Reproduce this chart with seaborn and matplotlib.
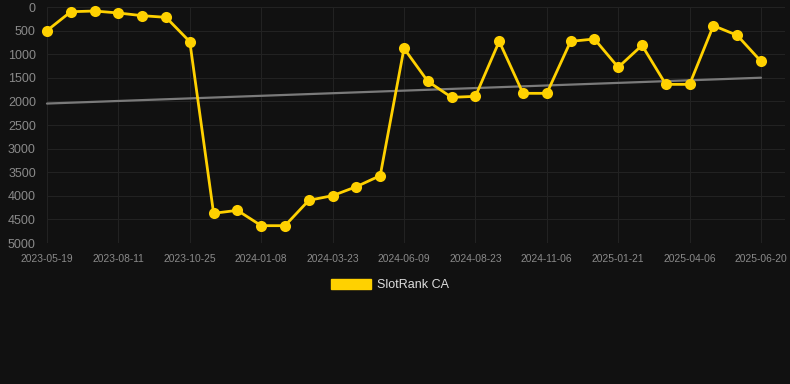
import numpy as np
import pandas as pd
import matplotlib
matplotlib.use("Agg")
import matplotlib.pyplot as plt
import matplotlib.patches as mpatches
import seaborn as sns

# rank values (lower = better, axis inverted)
rank = [500, 100, 85, 127, 184, 219, 735, 4371, 4308, 4633, 4633,
        4096, 3997, 3806, 3573, 876, 1575, 1914, 1893, 728, 1829,
        1829, 728, 678, 1278, 812, 1639, 1639, 395, 600, 1151]
tick_dates = ["2023-05-19", "2023-08-11", "2023-10-25", "2024-01-08",
              "2024-03-23", "2024-06-09", "2024-08-23", "2024-11-06",
              "2025-01-21", "2025-04-06", "2025-06-20"]
yticks = [0, 500, 1000, 1500, 2000, 2500, 3000, 3500, 4000, 4500, 5000]

bg = "#111111"
gold = "#ffd100"
gridc = "#222222"
txtc = "#8a8a8a"

df = pd.DataFrame({"idx": np.arange(len(rank)), "rank": rank})

sns.set_style("dark")
plt.rcParams["font.family"] = ["Liberation Sans", "DejaVu Sans"]

fig = plt.figure(figsize=(7.9, 3.84), dpi=100, facecolor=bg)
ax = fig.add_axes([47 / 790, 1 - 243 / 384, (785 - 47) / 790, (243 - 7) / 384])
ax.set_facecolor(bg)

# trend line
sns.regplot(data=df, x="idx", y="rank", scatter=False, ci=None, ax=ax,
            line_kws={"color": "#7a7a7a", "linewidth": 1.6, "zorder": 2})

sns.lineplot(data=df, x="idx", y="rank", ax=ax, color=gold, linewidth=2.0,
             marker="o", markersize=8, markeredgewidth=0, zorder=3)
for ln in ax.get_lines():
    ln.set_clip_on(False)

ax.set_ylim(5000, 0)
ax.set_xlim(0, 30 + 24 / 23.8)
ax.set_yticks(yticks)
ax.set_yticklabels([str(v) for v in yticks])
ax.set_xticks(range(0, len(rank), 3))
ax.set_xticklabels(tick_dates)
ax.set_xlabel("")
ax.set_ylabel("")

ax.grid(True, color=gridc, linewidth=0.8)
ax.tick_params(axis="y", length=6, width=0.8, color=gridc, pad=2,
               labelsize=9, labelcolor=txtc)
ax.tick_params(axis="x", length=6, width=0.8, color=gridc, pad=2,
               labelsize=7.4, labelcolor=txtc)
for s in ax.spines.values():
    s.set_visible(False)

handle = mpatches.Patch(facecolor=gold, edgecolor=gold, label="SlotRank CA")
fig.legend(handles=[handle], loc="center", bbox_to_anchor=(0.494, 1 - 285 / 384),
           frameon=False, fontsize=9, labelcolor="#dddddd",
           handlelength=3.2, handleheight=0.9, handletextpad=0.5)

fig.savefig("out.png", dpi=100, facecolor=bg)
